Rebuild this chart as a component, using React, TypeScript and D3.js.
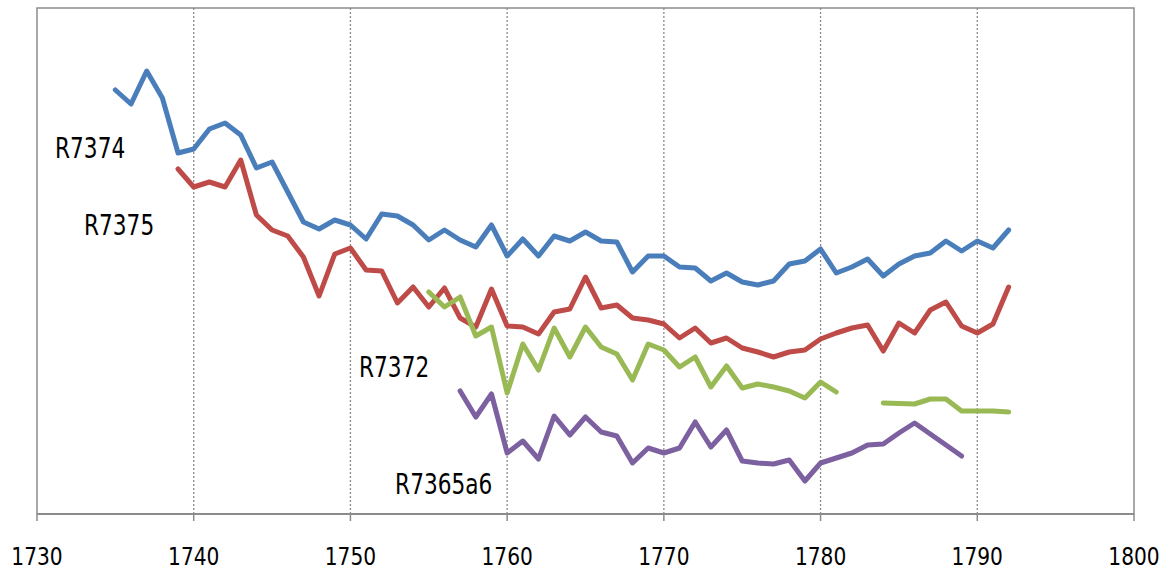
import React from 'react';
import * as d3 from 'd3';

// yearly values (arbitrary units)
const r7374Start = 1735;
const r7374 = [
  85.4, 82.6, 89.2, 83.8, 72.8, 73.6, 77.6, 78.8, 76.4, 69.8, 71.0, 65.0, 59.0, 57.6, 59.4,
  58.4, 55.6, 60.6, 60.2, 58.4, 55.4, 57.4, 55.4, 54.0, 58.4, 52.2, 55.6, 52.2, 56.2, 55.2,
  57.0, 55.2, 55.0, 49.0, 52.2, 52.2, 50.0, 49.8, 47.2, 48.8, 47.0, 46.4, 47.2, 50.6, 51.2,
  53.6, 48.8, 50.0, 51.6, 48.2, 50.6, 52.2, 52.8, 55.2, 53.2, 55.2, 53.8, 57.4,
];

const r7375Start = 1739;
const r7375 = [
  69.6, 66.0, 67.0, 66.0, 71.4, 60.4, 57.4, 56.2, 52.0, 44.2, 52.6, 53.8, 49.4, 49.2, 42.8,
  46.0, 42.0, 45.8, 39.8, 38.0, 45.6, 38.2, 38.0, 36.6, 41.0, 41.6, 48.0, 41.8, 42.4, 39.8,
  39.4, 38.6, 35.8, 37.8, 34.8, 35.8, 33.8, 33.0, 32.0, 33.0, 33.4, 35.6, 36.8, 37.8, 38.4,
  33.2, 38.8, 36.8, 41.4, 43.0, 38.2, 36.8, 38.6, 46.0,
];

const r7372Start = 1755;
const r7372: (number | null)[] = [
  45.0, 42.0, 44.0, 36.2, 38.0, 24.8, 34.6, 29.4, 37.8, 32.0, 38.0, 34.0, 32.6, 27.4, 34.6,
  33.4, 30.0, 32.0, 26.0, 30.2, 25.8, 26.6, 26.0, 25.2, 23.8, 27.0, 25.0, null, null, 22.8,
  22.7, 22.6, 23.6, 23.6, 21.2, 21.2, 21.2, 21.0,
];

const r7365a6Start = 1757;
const r7365a6 = [
  25.2, 20.0, 24.6, 12.8, 15.2, 11.6, 20.2, 16.4, 20.0, 17.0, 16.2, 10.8, 13.8, 12.8, 13.8,
  19.0, 14.0, 17.4, 11.2, 10.8, 10.6, 11.4, 7.2, 10.8, 11.8, 12.8, 14.4, 14.6, 16.8, 18.8,
  16.6, 14.4, 12.2,
];

const xTicks = [1730, 1740, 1750, 1760, 1770, 1780, 1790, 1800];

const series = [
  { name: 'R7374', start: r7374Start, values: r7374, color: '#4a7ebb', labelAt: [1731.15, 71.8] },
  { name: 'R7375', start: r7375Start, values: r7375, color: '#be4b48', labelAt: [1733.0, 56.4] },
  { name: 'R7372', start: r7372Start, values: r7372, color: '#98b954', labelAt: [1750.55, 28.0] },
  { name: 'R7365a6', start: r7365a6Start, values: r7365a6, color: '#7d60a0', labelAt: [1752.85, 4.6] },
];

const W = 1171;
const H = 572;
const margin = { left: 37, right: 37, top: 8, bottom: 58 };
const font = '"DejaVu Sans Condensed", "DejaVu Sans", sans-serif';

export default function App() {
  const plotBottom = H - margin.bottom;
  const x = d3.scaleLinear().domain([1730, 1800]).range([margin.left, W - margin.right]);
  const y = d3.scaleLinear().domain([0.6, 101.8]).range([plotBottom, margin.top]);

  const line = d3
    .line<[number, number | null]>()
    .defined(d => d[1] != null)
    .x(d => x(d[0]))
    .y(d => y(d[1] as number));

  return (
    <svg width={W} height={H} style={{ position: 'absolute', left: 0, top: 0, background: '#fff' }}>
      {/* dotted gridlines */}
      {xTicks.slice(1, -1).map(t => (
        <line
          key={t}
          x1={x(t)}
          x2={x(t)}
          y1={margin.top}
          y2={plotBottom}
          stroke="#8c8c8c"
          strokeWidth={1.3}
          strokeDasharray="2,2"
        />
      ))}
      <rect
        x={margin.left}
        y={margin.top}
        width={W - margin.left - margin.right}
        height={plotBottom - margin.top}
        fill="none"
        stroke="#8c8c8c"
        strokeWidth={1.5}
      />
      <line x1={margin.left} x2={W - margin.right} y1={plotBottom} y2={plotBottom} stroke="#8c8c8c" strokeWidth={2} />
      {xTicks.map(t => (
        <g key={t}>
          <line x1={x(t)} x2={x(t)} y1={plotBottom} y2={plotBottom + 7} stroke="#8c8c8c" strokeWidth={1.5} />
          <text
            transform={`translate(${x(t)},${plotBottom + 51}) scale(0.88,1)`}
            textAnchor="middle"
            fontFamily={font}
            fontSize={25.5}
            fill="#000"
          >
            {t}
          </text>
        </g>
      ))}

      {series.map(s => (
        <path
          key={s.name}
          d={line(s.values.map((v, i) => [s.start + i, v] as [number, number | null])) || ''}
          fill="none"
          stroke={s.color}
          strokeWidth={5}
          strokeLinejoin="round"
          strokeLinecap="round"
        />
      ))}

      {series.map(s => (
        <text
          key={s.name}
          transform={`translate(${x(s.labelAt[0])},${y(s.labelAt[1])}) scale(0.86,1)`}
          fontFamily={font}
          fontSize={28}
          fill="#000"
        >
          {s.name}
        </text>
      ))}
    </svg>
  );
}
